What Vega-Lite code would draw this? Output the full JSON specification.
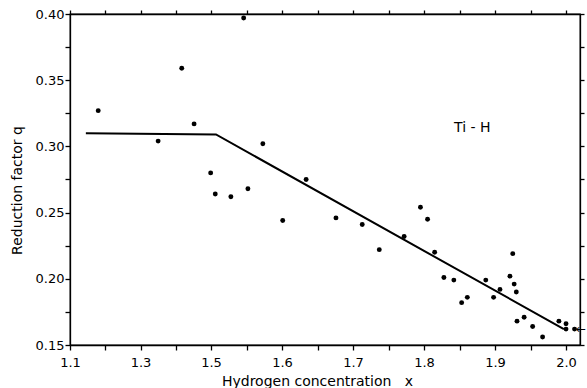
{
  "$schema": "https://vega.github.io/schema/vega-lite/v6.json",
  "width": 510,
  "height": 331,
  "autosize": {"type": "none"},
  "padding": {"left": 70, "top": 14, "right": 7, "bottom": 43},
  "background": "white",
  "config": {
    "view": {"stroke": "black", "strokeWidth": 1.3},
    "font": "DejaVu Sans",
    "axis": {
      "domain": true,
      "domainColor": "black",
      "domainWidth": 1.3,
      "grid": false,
      "ticks": true,
      "tickColor": "black",
      "tickSize": 5,
      "tickWidth": 1.3,
      "labelColor": "black",
      "labelFont": "DejaVu Sans",
      "labelFontSize": 13,
      "labelOverlap": false,
      "labelFlush": false,
      "labelBound": false,
      "titleFont": "DejaVu Sans",
      "titleFontSize": 14,
      "titleColor": "black",
      "titleFontWeight": "normal"
    }
  },
  "datasets": {
    "points": [
      {"x": 1.180, "q": 0.327},
      {"x": 1.350, "q": 0.304},
      {"x": 1.417, "q": 0.359},
      {"x": 1.452, "q": 0.317},
      {"x": 1.499, "q": 0.280},
      {"x": 1.506, "q": 0.264},
      {"x": 1.528, "q": 0.262},
      {"x": 1.552, "q": 0.268},
      {"x": 1.546, "q": 0.397},
      {"x": 1.573, "q": 0.302},
      {"x": 1.601, "q": 0.244},
      {"x": 1.634, "q": 0.275},
      {"x": 1.676, "q": 0.246},
      {"x": 1.713, "q": 0.241},
      {"x": 1.737, "q": 0.222},
      {"x": 1.772, "q": 0.232},
      {"x": 1.795, "q": 0.254},
      {"x": 1.805, "q": 0.245},
      {"x": 1.815, "q": 0.220},
      {"x": 1.828, "q": 0.201},
      {"x": 1.842, "q": 0.199},
      {"x": 1.853, "q": 0.182},
      {"x": 1.861, "q": 0.186},
      {"x": 1.887, "q": 0.199},
      {"x": 1.898, "q": 0.186},
      {"x": 1.907, "q": 0.192},
      {"x": 1.921, "q": 0.202},
      {"x": 1.925, "q": 0.219},
      {"x": 1.927, "q": 0.196},
      {"x": 1.930, "q": 0.190},
      {"x": 1.931, "q": 0.168},
      {"x": 1.941, "q": 0.171},
      {"x": 1.953, "q": 0.164},
      {"x": 1.967, "q": 0.156},
      {"x": 1.990, "q": 0.168},
      {"x": 2.000, "q": 0.166},
      {"x": 2.000, "q": 0.162},
      {"x": 2.012, "q": 0.162}
    ],
    "fit": [
      {"x": 1.145, "q": 0.310},
      {"x": 1.507, "q": 0.309},
      {"x": 1.997, "q": 0.162}
    ],
    "labels": [
      {"x": 1.868, "q": 0.314, "text": "Ti - H"}
    ],
    "arrows": [
      {"x": 2.014, "q": 0.162, "text": "←"}
    ]
  },
  "layer": [
    {
      "data": {"name": "fit"},
      "mark": {"type": "line", "color": "black", "strokeWidth": 2},
      "encoding": {
        "x": {
          "field": "x", "type": "quantitative",
          "scale": {"domain": [1.1, 1.5, 2.0197], "range": [0, 141, 510], "nice": false, "zero": false},
          "axis": {
            "orient": "bottom",
            "values": [1.1, 1.2, 1.3, 1.4, 1.5, 1.55, 1.6, 1.65, 1.7, 1.75, 1.8, 1.85, 1.9, 1.95, 2.0],
            "labelExpr": "(abs(datum.value-1.2)<0.001 || abs(datum.value-1.4)<0.001 || round(datum.value*100)%10==5) ? '' : format(datum.value,'.1f')",
            "labelPadding": 6,
            "title": "Hydrogen concentration\u00a0\u00a0 x",
            "titleX": 247, "titleY": 40, "titleAlign": "center", "titleBaseline": "alphabetic"
          }
        },
        "y": {
          "field": "q", "type": "quantitative",
          "scale": {"domain": [0.15, 0.40], "nice": false, "zero": false},
          "axis": {
            "orient": "left",
            "values": [0.15, 0.175, 0.2, 0.225, 0.25, 0.275, 0.3, 0.325, 0.35, 0.375, 0.4],
            "labelExpr": "round(datum.value*1000) % 50 == 0 ? format(datum.value, '.2f') : ''",
            "labelPadding": 1,
            "title": "Reduction factor q",
            "titleX": -53, "titleY": 176, "titleAngle": -90, "titleAlign": "center", "titleBaseline": "middle"
          }
        }
      }
    },
    {
      "data": {"name": "points"},
      "mark": {"type": "point", "filled": true, "color": "black", "size": 24, "opacity": 1},
      "encoding": {
        "x": {
          "field": "x", "type": "quantitative",
          "scale": {"domain": [1.1, 1.5, 2.0197], "range": [0, 141, 510], "nice": false, "zero": false},
          "axis": {
            "orient": "top",
            "tickSize": 4,
            "values": [1.1, 1.2, 1.3, 1.4, 1.5, 1.55, 1.6, 1.65, 1.7, 1.75, 1.8, 1.85, 1.9, 1.95, 2.0],
            "labels": false, "title": null
          }
        },
        "y": {
          "field": "q", "type": "quantitative",
          "scale": {"domain": [0.15, 0.40], "nice": false, "zero": false},
          "axis": {
            "orient": "right",
            "tickSize": 4,
            "values": [0.15, 0.175, 0.2, 0.225, 0.25, 0.275, 0.3, 0.325, 0.35, 0.375, 0.4],
            "labels": false, "title": null
          }
        }
      }
    },
    {
      "data": {"name": "labels"},
      "mark": {"type": "text", "color": "black", "fontSize": 14, "font": "DejaVu Sans", "align": "center", "baseline": "middle"},
      "encoding": {
        "x": {"field": "x", "type": "quantitative", "axis": null},
        "y": {"field": "q", "type": "quantitative", "axis": null},
        "text": {"field": "text"}
      }
    },
    {
      "data": {"name": "arrows"},
      "mark": {"type": "text", "color": "black", "fontSize": 12, "font": "DejaVu Sans", "align": "left", "baseline": "middle"},
      "encoding": {
        "x": {"field": "x", "type": "quantitative", "axis": null},
        "y": {"field": "q", "type": "quantitative", "axis": null},
        "text": {"field": "text"}
      }
    }
  ],
  "resolve": {"axis": {"x": "independent", "y": "independent"}}
}
